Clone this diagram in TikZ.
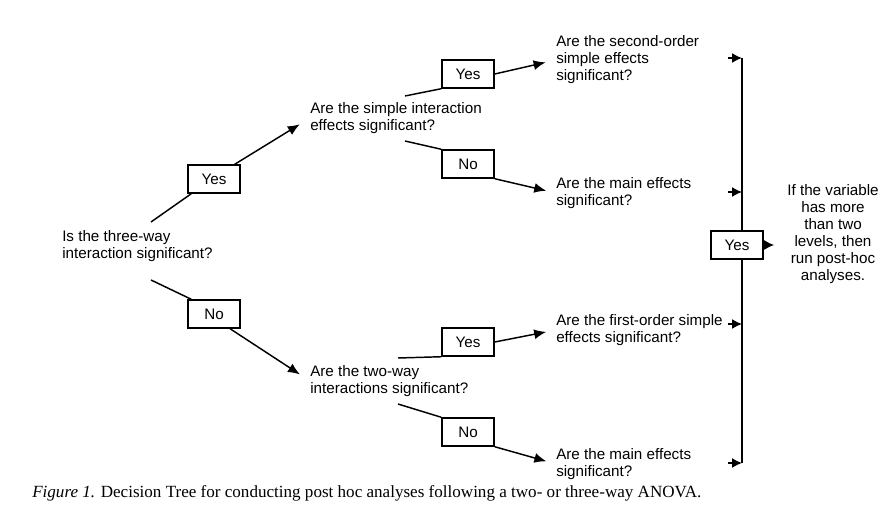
\documentclass[tikz,border=0pt]{standalone}
\usepackage{fontspec}
\setmainfont{Liberation Serif}
\newfontfamily\arialfont{Liberation Sans}
\usetikzlibrary{arrows.meta}
\usetikzlibrary{positioning}

\tikzset{
  qtext/.style={font=\arialfont\fontsize{11.4}{12.75}\selectfont, align=left, anchor=west, inner sep=0pt},
  ansbox/.style={draw, line width=1.1pt, minimum width=39pt, minimum height=21pt, inner sep=0pt, font=\arialfont\fontsize{11.4}{12.75}\selectfont},
  conn/.style={line width=1.1pt},
  arr/.style={line width=1.1pt, -{Latex[length=9pt,width=7.5pt]}},
  barr/.style={line width=1.1pt, -{Latex[length=7.5pt,width=7.5pt]}},
}

\begin{document}
\begin{tikzpicture}[x=0.75pt,y=0.75pt,yscale=-1,xscale=1]
\useasboundingbox (0,0) rectangle (892,517);

% Text Node
\node[qtext] (q1) at (62,246) {Is the three-way\\interaction significant?};
\node[qtext] (q2) at (310,118) {Are the simple interaction\\effects significant?};
\node[qtext] (q3) at (310,381) {Are the two-way\\interactions significant?};
\node[qtext] (a1) at (556,60) {Are the second-order\\simple effects\\significant?};
\node[qtext] (a2) at (556,193) {Are the main effects\\significant?};
\node[qtext] (a3) at (556,330) {Are the first-order simple\\effects significant?};
\node[qtext] (a4) at (556,464) {Are the main effects\\significant?};
\node[qtext, anchor=center, align=center] (res) at (833,234) {If the variable\\has more\\than two\\levels, then\\run post-hoc\\analyses.};

% Answer boxes
\node[ansbox] (y1) at (214,179) {Yes};
\node[ansbox] (n1) at (214,314) {No};
\node[ansbox] (y2) at (468,74) {Yes};
\node[ansbox] (n2) at (468,164) {No};
\node[ansbox] (y3) at (468,342) {Yes};
\node[ansbox] (n3) at (468,432) {No};
\node[ansbox] (y4) at (737,245) {Yes};

% free ends of the lines
\coordinate (t1) at (151,222);
\coordinate (t2) at (151,280);
\coordinate (t3) at (405,96);
\coordinate (t4) at (405,141);
\coordinate (t5) at (398,358);
\coordinate (t6) at (398,404);

%Straight Lines
\draw[conn] (t1) -- ([xshift=3pt]y1.south west);
\draw[arr, shorten >=9pt] ([xshift=-4.5pt]y1.north east) -- (q2.west);
\draw[conn] (t2) -- ([xshift=3pt]n1.north west);
\draw[arr, shorten >=9pt] ([xshift=-8pt]n1.south east) -- (q3.west);

\draw[conn] (t3) -- (y2.south west);
\draw[arr, shorten >=8pt] (y2.east) -- (a1.west);
\draw[conn] (t4) -- (n2.north west);
\draw[arr, shorten >=7.5pt] (n2.south east) -- (a2.west);

\draw[conn] (t5) -- (y3.south west);
\draw[arr, shorten >=7.5pt] (y3.east) -- (a3.west);
\draw[conn] (t6) -- (n3.north west);
\draw[arr, shorten >=7.5pt] (n3.south east) -- (a4.west);

% bar on the right
\foreach \y [count=\i] in {58,192,324,463}
  {\coordinate (b\i) at (742,\y);
   \draw[barr] ([xshift=-10.5pt]b\i) -- (b\i);}
\draw[conn] (b1) -- (b1 |- y4.north);
\draw[conn] (b4) -- (b4 |- y4.south);
\draw[barr, shorten >=9.75pt] (y4.east) -- (res.west |- y4.east);

% Caption
\node[anchor=base west, inner sep=0pt, font=\fontsize{12.8}{15}\selectfont] (cap) at (32,497)
  {\textit{Figure 1.} Decision Tree for conducting post hoc analyses following a two- or three-way ANOVA.};

\end{tikzpicture}
\end{document}
